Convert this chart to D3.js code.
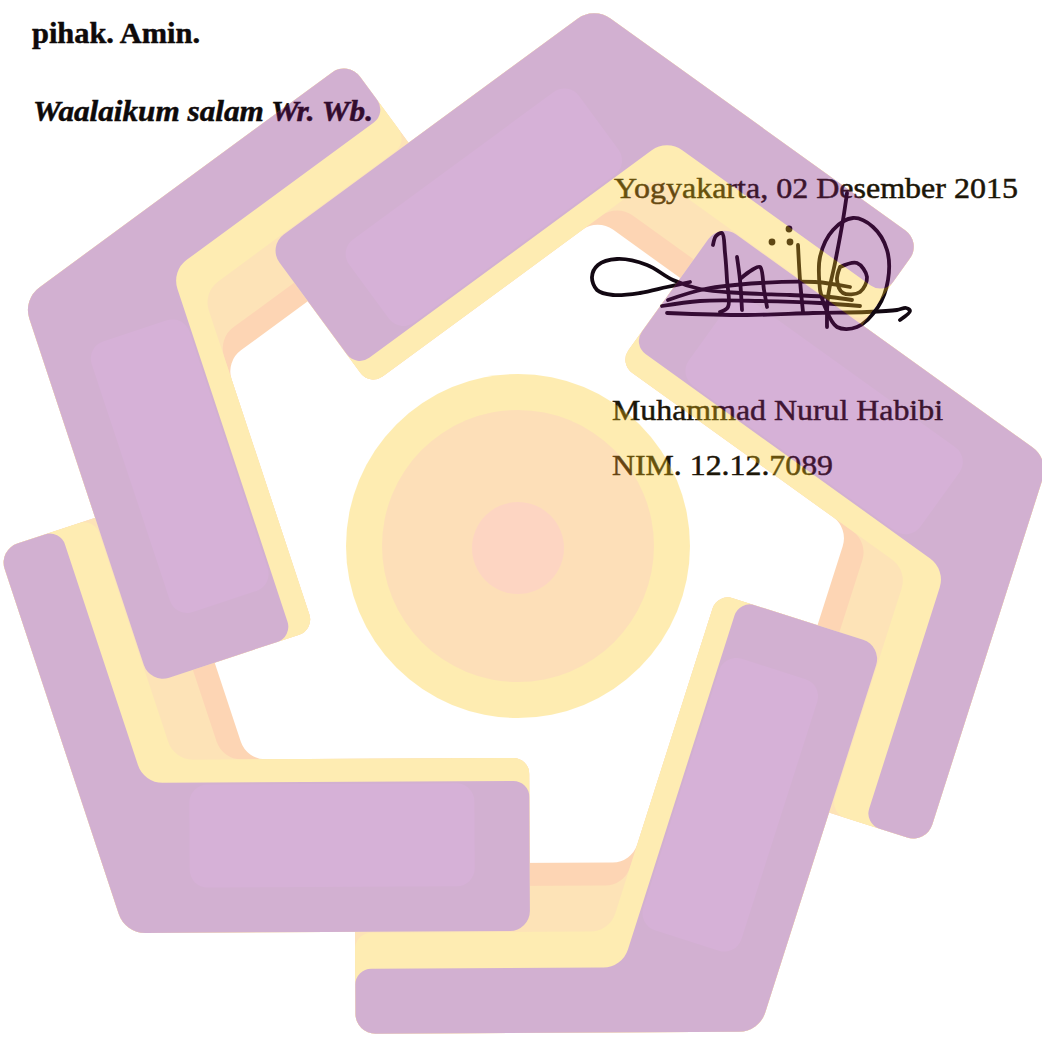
<!DOCTYPE html>
<html>
<head>
<meta charset="utf-8">
<script src="https://cdn.jsdelivr.net/npm/d3@7"></script>
<style>
  html, body { margin: 0; padding: 0; background: #fff; }
  svg { display: block; }
</style>
</head>
<body>
<script>
// ---------------- data ----------------
// text lines of the scanned page
const textLines = ["pihak. Amin.", "Waalaikum salam Wr. Wb.", "Yogyakarta, 02 Desember 2015", "Muhammad Nurul Habibi", "NIM. 12.12.7089"];
const textWeights = ["bold", "bold", "normal", "normal", "normal"];
const textStyles = ["normal", "italic", "normal", "normal", "normal"];
const textInk = ["#0e0a0a", "#0e0a0a", "#1c1608", "#1c1608", "#1c1608"];

// watermark logo: five L-shaped pieces on a pentagon (outward normal angle of each edge, degrees)
const edgeAngles = [17.7, 89.7, 161.7, 233.7, 305.7];
// layers of every piece, back to front
const layerNames = ["peach", "lightPeach", "yellow", "purple"];
const layerOuterArmFrom = [317, 340, 386, 422];   // inner limit of the outer arm (distance from centre)
const layerInnerArmFrom = [212, 212, 212, 235];   // inner limit of the inner arm
const layerInnerArmTo = [385, 385, 385, 385];     // outer limit of the inner arm
const layerColors = ["#fdd6b5", "#fde4b8", "#feedb3", "#d3b1d2"];
const highlightColor = "#d7b2d8";
// centre badge rings
const ringNames = ["outer", "middle", "inner"];
const ringColors = ["#feedb2", "#fde0b9", "#fdd6c3"];

// signature strokes
const signatureStrokes = [
  [[690,282],[667,287],[640,293],[613,295],[597,290],[592,277],[598,265],[617,259],[647,265],[673,280],[700,289],[740,293],[790,295],[830,297],[852,300]],
  [[668,300],[705,289],[760,283],[815,282],[850,287]],
  [[662,306],[700,301],[760,301],[820,303],[860,306]],
  [[667,313],[747,315],[813,313],[867,312],[897,310],[906,308],[910,311],[900,320]],
  [[713,245],[716,236],[722,233],[725,253],[727,280],[728,307],[720,312]],
  [[737,257],[740,280],[742,310]],
  [[740,279],[752,270],[760,267],[764,290],[767,307]],
  [[798,245],[800,280],[803,312]],
  [[847,193],[843,220],[835,263],[828,297],[827,327]],
  [[820,290],[820,257],[833,230],[853,218],[873,227],[887,250],[888,280],[878,307],[857,327],[837,327],[825,307],[820,290]],
  [[840,267],[857,263],[867,277],[860,292],[843,293],[837,280],[840,267]]
];
const signatureDots = [[772,242],[789,229],[790,242]];

// ---------------- layout ----------------
const W = 1042, H = 1038;
const CX = 510, CY = 546, OUTER_V = 487;
const U_OUT = 157, U_IN = -18;
const ALPHA = 0.33;
const textX = [32, 33, 614, 612, 612];
const textY = [43, 121, 198, 420, 475];
const textLen = [168, 340, 404, 331, 221];

const svg = d3.select("body").append("svg").attr("width", W).attr("height", H);
svg.append("rect").attr("width", W).attr("height", H).attr("fill", "#ffffff");

// text
const tg = svg.append("g").attr("font-family", "'Liberation Serif', 'Times New Roman', serif");
tg.selectAll("text").data(textLines).join("text")
  .attr("x", (d, i) => textX[i])
  .attr("y", (d, i) => textY[i])
  .attr("font-size", 30)
  .attr("font-weight", (d, i) => textWeights[i])
  .attr("font-style", (d, i) => textStyles[i])
  .attr("fill", (d, i) => textInk[i])
  .attr("stroke", (d, i) => textInk[i])
  .attr("stroke-width", 0.5)
  .attr("textLength", (d, i) => textLen[i])
  .attr("lengthAdjust", "spacingAndGlyphs")
  .text(d => d);

// signature
const sigLine = d3.line().curve(d3.curveCatmullRom.alpha(0.5));
const sg = svg.append("g");
sg.selectAll("path").data(signatureStrokes).join("path")
  .attr("d", sigLine).attr("fill", "none").attr("stroke", "#120812")
  .attr("stroke-width", 3.8).attr("stroke-linecap", "round").attr("stroke-linejoin", "round");
sg.selectAll("circle").data(signatureDots).join("circle")
  .attr("cx", d => d[0]).attr("cy", d => d[1]).attr("r", 3.4).attr("fill", "#120812");

// ---------------- watermark ----------------
// convert the visible (over white) colour to the colour used at opacity ALPHA
function wm(hex) {
  const c = d3.rgb(hex);
  const f = v => Math.max(0, Math.min(255, 255 - (255 - v) / ALPHA));
  return d3.rgb(f(c.r), f(c.g), f(c.b)).formatHex();
}
function frame(k) {
  const a = edgeAngles[((k % 5) + 5) % 5] * Math.PI / 180;
  return { n: [Math.cos(a), Math.sin(a)], t: [-Math.sin(a), Math.cos(a)] };
}
function pt(k, u, v) {
  const f = frame(k);
  return [CX + u * f.t[0] + v * f.n[0], CY + u * f.t[1] + v * f.n[1]];
}
function meet(k, a, j, b) {
  const nk = frame(k).n, nj = frame(j).n;
  const det = nk[0] * nj[1] - nk[1] * nj[0];
  const x = (a * nj[1] - nk[1] * b) / det;
  const y = (nk[0] * b - nj[0] * a) / det;
  return [CX + x, CY + y];
}
function roundedPoly(pts, rs) {
  const p = d3.path(), n = pts.length;
  p.moveTo((pts[n - 1][0] + pts[0][0]) / 2, (pts[n - 1][1] + pts[0][1]) / 2);
  for (let i = 0; i < n; i++) {
    const a = pts[i], b = pts[(i + 1) % n];
    p.arcTo(a[0], a[1], b[0], b[1], rs[i]);
  }
  p.closePath();
  return p.toString();
}
function piecePath(k, li) {
  const oFrom = layerOuterArmFrom[li], iFrom = layerInnerArmFrom[li], iTo = layerInnerArmTo[li];
  const pts = [
    meet(k, OUTER_V, k - 1, iTo),
    pt(k, U_OUT, OUTER_V),
    pt(k, U_OUT, oFrom),
    meet(k, oFrom, k - 1, iFrom),
    pt(k - 1, U_IN, iFrom),
    pt(k - 1, U_IN, iTo)
  ];
  return roundedPoly(pts, [28, 20, 16, 26, 16, 20]);
}
function highlightPath(k) {
  const pts = [pt(k - 1, U_IN + 55, 237), pt(k - 1, U_IN + 55, 340), pt(k - 1, U_IN + 340, 340), pt(k - 1, U_IN + 340, 237)];
  return roundedPoly(pts, [18, 18, 18, 18]);
}

const wg = svg.append("g").attr("opacity", ALPHA);

// centre badge
const ringR = d3.scaleOrdinal().domain(ringNames).range([172, 136, 46]);
const ringDy = d3.scaleOrdinal().domain(ringNames).range([0, 0, 2]);
wg.selectAll("circle.ring").data(ringNames).join("circle")
  .attr("class", "ring")
  .attr("cx", 518).attr("cy", d => 546 + ringDy(d)).attr("r", d => ringR(d))
  .attr("fill", (d, i) => wm(ringColors[i]));

const pieces = d3.range(5);
// light layers of all pieces first
layerNames.forEach((name, li) => {
  if (name === "purple") return;
  wg.append("g").selectAll("path").data(pieces).join("path")
    .attr("d", k => piecePath(k, li)).attr("fill", wm(layerColors[li]));
});
// purple layer on top
const pi = layerNames.indexOf("purple");
wg.append("g").selectAll("path").data(pieces).join("path")
  .attr("d", k => piecePath(k, pi)).attr("fill", wm(layerColors[pi]));
wg.append("g").selectAll("path").data(pieces).join("path")
  .attr("d", k => highlightPath(k)).attr("fill", wm(highlightColor));
</script>
</body>
</html>
